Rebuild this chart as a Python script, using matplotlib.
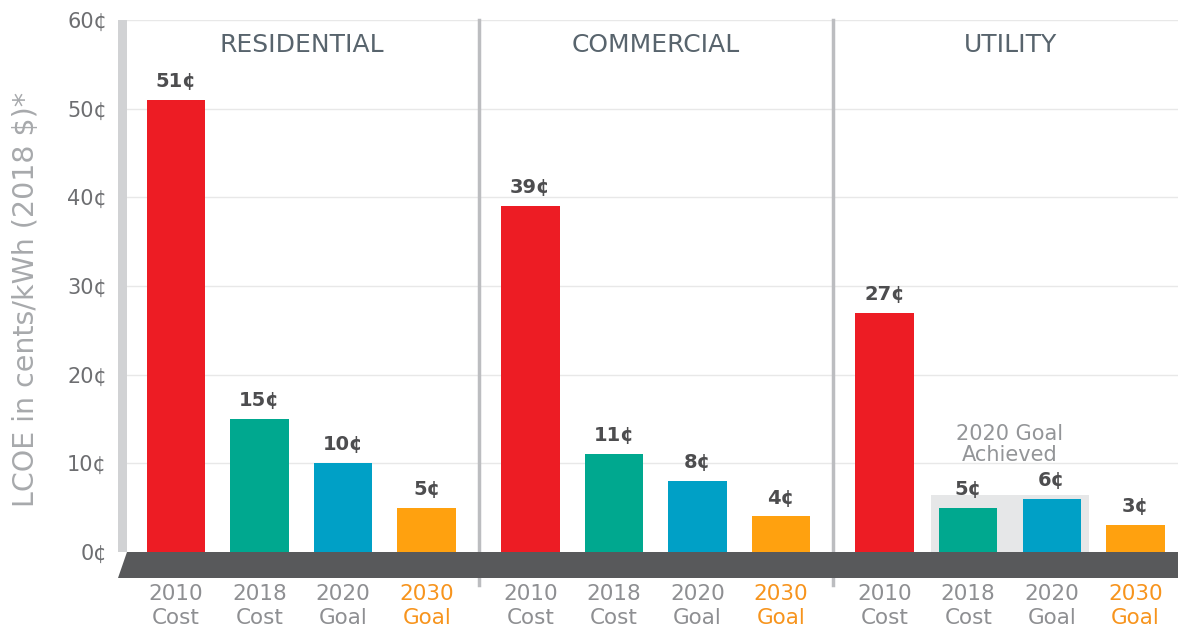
import numpy as np
import matplotlib.pyplot as plt
from matplotlib.patches import Polygon, Rectangle

plt.rcParams['font.family'] = ['DejaVu Sans']

# 数据
segments = ["RESIDENTIAL", "COMMERCIAL", "UTILITY"]
bar_labels = ["2010\nCost", "2018\nCost", "2020\nGoal", "2030\nGoal"]
residential = [51, 15, 10, 5]
commercial = [39, 11, 8, 4]
utility = [27, 5, 6, 3]
yticks = [0, 10, 20, 30, 40, 50, 60]

colors = ["#ed1c24", "#00a88f", "#00a0c6", "#ffa10f"]
label_colors = ["#8e8f92", "#8e8f92", "#8e8f92", "#f7941d"]
panel_gap = 4.24

fig = plt.figure(figsize=(11.78, 6.27), dpi=100)
ax = fig.add_axes([118 / 1178, 49 / 627, 1 - 118 / 1178, 558 / 627])
ax.set_xlim(-0.694, 11.99)
ax.set_ylim(-2.95, 60)
for s in ax.spines.values():
    s.set_visible(False)

# 网格线
for t in yticks[1:]:
    ax.plot([-0.59, 11.99], [t, t], color="#e8e8e8", lw=1, zorder=0)

# 左边灰色竖条
ax.add_patch(Rectangle((-0.694, 0), 0.105, 60, color="#d1d2d4", zorder=1, lw=0))

# 2020 Goal Achieved 背景框
ax.add_patch(Rectangle((2 * panel_gap + 1 - 0.45, 0), 1.9, 6.43,
                       color="#e6e7e8", zorder=1, lw=0))
ax.text(2 * panel_gap + 1.5, 12.1, "2020 Goal\nAchieved", ha="center", va="center",
        fontsize=15, color="#939598", linespacing=1.1)

all_data = [residential, commercial, utility]
for p, vals in enumerate(all_data):
    xs = np.arange(4) + p * panel_gap
    ax.bar(xs, vals, width=0.7, color=colors, zorder=2)
    for x, v in zip(xs, vals):
        ax.text(x, v + 1.0, f"{v}¢", ha="center", va="bottom", fontsize=14,
                fontweight="bold", color="#4d4d4f")
    ax.text(xs.mean(), 57.2, segments[p], ha="center", va="center",
            fontsize=18, color="#58646d")
    for x, lab, c in zip(xs, bar_labels, label_colors):
        ax.text(x, -6.1, lab, ha="center", va="center", fontsize=15.5, color=c,
                linespacing=1.2, clip_on=False)

# 分隔线
for d in [3.62, 3 + panel_gap + 0.62]:
    ax.plot([d, d], [-3.7, 60], color="#bcbdc0", lw=2.5, zorder=1.5, clip_on=False)

# 底部深灰色带
ax.add_patch(Polygon([(-0.59, 0), (11.99, 0), (11.99, -2.95), (-0.694, -2.95)],
                     closed=True, color="#58595b", zorder=3, lw=0))

ax.set_xticks([])
ax.set_yticks(yticks)
ax.set_yticklabels([f"{t}¢" for t in yticks], fontsize=15, color="#6d6e71")
ax.tick_params(axis="y", length=0, pad=8)
ax.set_ylabel("LCOE in cents/kWh (2018 $)*", fontsize=20.5, color="#a7a9ac")
ax.yaxis.set_label_coords(-0.074, 0.5)

fig.savefig("out.png", dpi=100)
